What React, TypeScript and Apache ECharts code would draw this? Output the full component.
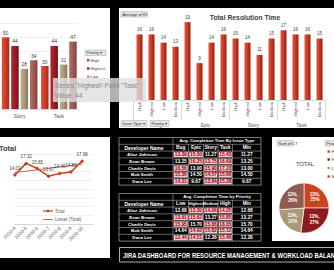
import React, { useEffect, useRef } from "react";
import * as echarts from "echarts";

// ---------------- data ----------------
const priorityNames = ["High", "Highest", "Low", "Medium"];

// top-left: issue count by issue type & priority (visible part)
const countCategories = ["Story", "Task"];
const countHigh = [50, 30];
const countHighest = [44, 44];
const countLow = [28, 31];
const countMedium = [34, 47];

// top-right: average of KT
const resolutionIssueTypes = ["Bug", "Epic", "Story", "Task"];
const resolutionPriorities = [
  "High", "Highest", "Low", "Medium",
  "High", "Highest", "Low", "Medium",
  "High", "Highest", "Low", "Medium",
  "High", "Highest", "Low", "Medium",
];
const resolutionValues = [16, 16, 14, 13, 19, 9, 14, 16, 15, 14, 11, 15, 17, 16, 16, 15];

// bottom-left: monthly total
const monthLabels = ["2020-4", "2020-5", "2020-6", "2020-7", "2020-8", "2020-9", "2020-10", ""];
const monthTotals = [14.03, 17.32, 15.85, 13.67, 14.46, 14.86, 17.96];
const trendEnds = [14.7, 17.1];

// tables
const developerNames = ["Alice Johnson", "Evan Brown", "Charlie Davis", "Bob Smith", "Dana Lee"];
const issueTypeHeaders = ["Bug", "Epic", "Story", "Task"];
const avgByIssueType = [
  [13.39, 15.0, 11.27, 15.43],
  [13.25, 16.25, 13.75, 16.69],
  [16.56, 13.0, 15.9, 17.23],
  [15.36, 14.5, 14.57, 15.66],
  [14.31, 9.67, 13.84, 15.28],
];
const priorityHeaders = ["Low", "Highest", "Medium", "High"];
const avgByPriority = [
  [12.68, 13.3, 14.06, 14.25],
  [13.91, 15.62, 13.27, 15.85],
  [15.95, 15.7, 15.86, 18.05],
  [14.64, 14.92, 15.82, 15.12],
  [12.44, 14.51, 12.28, 15.46],
];

// pie
const pieShares = [25, 27, 22, 26];
const pieCountShares = ["13%", "13%", "13%", "12%"];

const tooltipLines = ['Series "Highest" Point "Task"', "Value: 44"];
const dashboardTitle = "JIRA DASHBOARD FOR RESOURCE MANAGEMENT & WORKLOAD BALANCING";

// ---------------- styles ----------------
const FONT = "'Liberation Sans', Arial, sans-serif";
const barStops = [
  ["#e2553a", "#d03b26", "#a82a1a"],
  ["#b02a30", "#9a1d23", "#721217"],
  ["#bcb090", "#a99b79", "#857759"],
  ["#b46e66", "#a15a52", "#7c423c"],
];
const pieColors = ["#c9451f", "#8c1c1c", "#a99a75", "#8f5d50"];
const legendColors = ["#d23c28", "#9a1b22", "#a69a78", "#a35e56"];

const grad = (stops: string[]) =>
  new echarts.graphic.LinearGradient(
    0, 0, 1, 0,
    stops.map((c, i) => ({ offset: i / (stops.length - 1), color: c }))
  );

function txt(x: number, y: number, t: string, fill: string, size: number, opts: any = {}) {
  const align = opts.align || "center";
  return {
    type: "text",
    x,
    y,
    z: opts.z ?? 5,
    scaleX: opts.scaleX ?? 1,
    silent: true,
    style: {
      text: t,
      fill,
      fontSize: size,
      fontWeight: opts.weight || "normal",
      fontFamily: FONT,
      align,
      verticalAlign: "middle",
      textAlign: align,
      textVerticalAlign: "middle",
    },
  };
}
function rect(x: number, y: number, w: number, h: number, style: any, z = 0) {
  return { type: "rect", z, silent: true, shape: { x, y, width: w, height: h }, style };
}
function line(x1: number, y1: number, x2: number, y2: number, stroke: string, lw: number, z = 3) {
  return { type: "line", z, silent: true, shape: { x1, y1, x2, y2 }, style: { stroke, lineWidth: lw } };
}
function button(x: number, y: number, w: number, h: number, label: string) {
  return [
    rect(x, y, w, h, { fill: "#e4e4e4", stroke: "#a6a6a6", lineWidth: 0.5 }, 10),
    txt(x + 1.5, y + h / 2, label, "#333", 4, { align: "left", z: 11 }),
  ];
}

function tableElements(title: string, headers: string[], rows: number[][], top: number) {
  const els: any[] = [];
  const xs = [119, 173, 188.5, 203.5, 218, 232.5, 261];
  const rh = 6.8;
  const bottom = top + rh * 7;
  const border = "#c8c8c8";
  rows.forEach((row, r) => {
    const y = top + rh * (r + 2);
    const mn = Math.min(...row);
    row.forEach((v, c) => {
      if (v !== mn) {
        els.push(rect(xs[c + 1] + 0.7, y + 0.7, xs[c + 2] - xs[c + 1] - 1.4, rh - 1.4, { fill: "#ffc7ce" }, 2));
      }
    });
  });
  els.push(rect(xs[0], top, xs[6] - xs[0], bottom - top, { fill: "none", stroke: border, lineWidth: 0.6 }, 3));
  for (let r = 1; r < 7; r++) els.push(line(xs[0], top + rh * r, xs[6], top + rh * r, border, 0.5));
  els.push(line(xs[1], top, xs[1], bottom, border, 0.5));
  for (let c = 2; c < 6; c++) els.push(line(xs[c], top + rh, xs[c], bottom, border, 0.5));
  els.push(txt((xs[1] + xs[6]) / 2, top + rh / 2, title, "#fff", 4.3, { weight: "bold" }));
  els.push(txt((xs[0] + xs[1]) / 2 - 2, top + rh * 1.5, "Developer Name", "#fff", 5, { weight: "bold" }));
  headers.forEach((h, i) =>
    els.push(txt((xs[i + 1] + xs[i + 2]) / 2, top + rh * 1.5, h, "#fff", h.length > 5 ? 4.1 : 4.8, { weight: "bold" }))
  );
  els.push(txt((xs[5] + xs[6]) / 2, top + rh * 1.5, "Min", "#fff", 4.8, { weight: "bold" }));
  rows.forEach((row, r) => {
    const y = top + rh * (r + 2) + rh / 2;
    const mn = Math.min(...row);
    els.push(txt((xs[0] + xs[1]) / 2 - 4, y, developerNames[r], "#fff", 4.4, { weight: "bold" }));
    row.forEach((v, c) => {
      els.push(txt((xs[c + 1] + xs[c + 2]) / 2, y, v.toFixed(2), v === mn ? "#fff" : "#9c0006", 4.8, { weight: "bold" }));
    });
    els.push(txt((xs[5] + xs[6]) / 2, y, mn.toFixed(2), "#fff", 4.8, { weight: "bold" }));
  });
  return els;
}

function buildOption() {
  const countSeries = [countHigh, countHighest, countLow, countMedium];
  const graphic: any[] = [
    // panels
    rect(0, 8, 110, 120, { fill: "#fff" }, 0),
    rect(119, 8, 215, 120, { fill: "#fff" }, 0),
    rect(0, 137, 110, 121, { fill: "#fff" }, 0),
    rect(272, 137, 62, 104, { fill: "#fff" }, 0),
    // top-left legend
    ...button(85, 50, 21, 5.5, "Priority ▾"),
    ...priorityNames.flatMap((n, i) => {
      const y = [60.3, 68.5, 76.7, 85][i];
      return [
        rect(87, y - 1.2, 2.4, 2.4, { fill: legendColors[i] }, 5),
        txt(90.5, y, n, "#404040", 4.3, { align: "left" }),
      ];
    }),
    // top-right
    ...button(121, 11.5, 26, 5.5, "Average of KT"),
    txt(245, 17.5, "Total Resolution Time", "#404040", 6.8, { weight: "bold" }),
    ...button(121, 120.5, 26, 6, "Issue Type ▾"),
    ...button(150, 120.5, 19, 6, "Priority ▾"),
    // bottom-left line chart
    txt(-1, 148, "Total", "#404040", 7.5, { weight: "bold", align: "left" }),
    line(43, 211, 53, 211, "#c9401c", 1.2, 5),
    { type: "circle", z: 6, silent: true, shape: { cx: 48, cy: 211, r: 1.3 }, style: { fill: "#c9401c" } },
    txt(55, 211, "Total", "#595959", 4.5, { align: "left" }),
    line(43, 219.5, 53, 219.5, "#b45a3c", 0.9, 5),
    txt(55, 219.5, "Linear (Total)", "#595959", 4.5, { align: "left" }),
    // tables
    ...tableElements("Avg. Completion Time By Issue Type", issueTypeHeaders, avgByIssueType, 137.5),
    ...tableElements("Avg. Completion Time by Priority", priorityHeaders, avgByPriority, 193.5),
    // footer
    rect(119.5, 247.5, 220, 14.5, { fill: "none", stroke: "#d9d9d9", lineWidth: 0.8 }, 3),
    txt(123, 255, dashboardTitle, "#fff", 7.2, { weight: "bold", align: "left", scaleX: 0.82 }),
    // pie panel
    ...button(277, 140.5, 16, 5.5, "Sum of CT"),
    ...button(325, 140.5, 14, 5.5, "Priority ▾"),
    ...priorityNames.flatMap((n, i) => {
      const y = [151.5, 159.5, 168, 176.5][i];
      return [
        rect(327.5, y - 1.2, 2.4, 2.4, { fill: pieColors[i] }, 5),
        txt(331.5, y, n, "#404040", 4.3, { align: "left" }),
      ];
    }),
    txt(305, 164, "TOTAL", "#404040", 5.8),
    // floating tooltip
    rect(53, 78, 93, 24, { fill: "rgba(222,222,222,0.8)" }, 50),
    txt(55, 85.5, tooltipLines[0], "#8c8c8c", 6.6, { align: "left", z: 51 }),
    txt(55, 95.5, tooltipLines[1], "#8c8c8c", 6.6, { align: "left", z: 51 }),
  ];

  return {
    animation: false,
    backgroundColor: "#000",
    textStyle: { fontFamily: FONT },
    grid: [
      { left: -3.5, top: 23, width: 82, height: 86 },
      { left: 133.5, top: 18, width: 192, height: 82 },
      { left: 0, top: 154, width: 93.3, height: 70 },
    ],
    xAxis: [
      {
        gridIndex: 0, type: "category", data: countCategories,
        axisLine: { lineStyle: { color: "#d9d9d9" } }, axisTick: { show: false },
        axisLabel: { fontSize: 5, color: "#595959", margin: 4 },
      },
      {
        gridIndex: 1, type: "category", data: resolutionPriorities,
        axisLine: { lineStyle: { color: "#d9d9d9" } }, axisTick: { show: false },
        axisLabel: { rotate: 90, fontSize: 4.2, color: "#595959", margin: 2, interval: 0 },
      },
      {
        gridIndex: 1, type: "category", data: resolutionIssueTypes, position: "bottom", offset: 20,
        axisLine: { show: false },
        axisTick: { show: true, inside: true, length: 20, lineStyle: { color: "#d9d9d9" } },
        axisLabel: { fontSize: 5, color: "#595959", margin: 2 },
      },
      {
        gridIndex: 2, type: "category", data: monthLabels, boundaryGap: false,
        axisLine: { lineStyle: { color: "#d9d9d9" } }, axisTick: { show: false },
        axisLabel: { rotate: 45, fontSize: 5, color: "#595959", margin: 3, interval: 0 },
      },
    ],
    yAxis: [
      {
        gridIndex: 0, type: "value", min: 0, max: 60, interval: 10,
        axisLabel: { show: false }, axisLine: { show: false }, axisTick: { show: false },
        splitLine: { lineStyle: { color: "#e6e6e6", width: 0.6 } },
      },
      { gridIndex: 1, type: "value", min: 0, max: 20, show: false },
      {
        gridIndex: 2, type: "value", min: 0, max: 20, interval: 2.5,
        axisLabel: { show: false }, axisLine: { show: false }, axisTick: { show: false },
        splitLine: { lineStyle: { color: "#e6e6e6", width: 0.6 } },
      },
    ],
    series: [
      ...priorityNames.map((name, i) => ({
        type: "bar", name, xAxisIndex: 0, yAxisIndex: 0, data: countSeries[i],
        barWidth: 7.5, barGap: "25%",
        itemStyle: { color: grad(barStops[i]) },
        label: { show: true, position: "top", fontSize: 5, color: "#404040", distance: 2 },
      })),
      {
        type: "bar", name: "Average of KT", xAxisIndex: 1, yAxisIndex: 1, data: resolutionValues,
        barWidth: 6,
        itemStyle: { color: grad(["#e0573c", "#c83a22", "#8c2014"]) },
        label: { show: true, position: "top", fontSize: 4.5, color: "#404040", distance: 2.5 },
      },
      {
        type: "line", name: "Total", xAxisIndex: 3, yAxisIndex: 2, data: monthTotals,
        symbol: "diamond", symbolSize: 4,
        lineStyle: { color: "#c9401c", width: 1.5 }, itemStyle: { color: "#c9401c" },
        label: {
          show: true, position: "top", fontSize: 4.5, color: "#404040", distance: 2,
          formatter: (p: any) => Number(p.value).toFixed(2),
        },
      },
      {
        type: "line", name: "Linear (Total)", xAxisIndex: 3, yAxisIndex: 2,
        data: [[0, trendEnds[0]], [monthTotals.length - 1, trendEnds[1]]],
        symbol: "none", lineStyle: { color: "#b45a3c", width: 0.9 },
      },
      {
        type: "pie", name: "Sum of CT", center: [304, 208], radius: 25, startAngle: 90, clockwise: true,
        silent: true,
        data: priorityNames.map((n, i) => ({ name: n, value: pieShares[i], itemStyle: { color: pieColors[i] } })),
        itemStyle: { borderColor: "#fff", borderWidth: 0.6 },
        label: {
          position: "inside", fontSize: 4.5, color: "#fff", fontWeight: "bold", lineHeight: 5.5,
          formatter: (p: any) => `${pieCountShares[p.dataIndex]},\n${Math.round(p.percent)}%`,
        },
        labelLine: { show: false },
      },
    ],
    graphic,
  };
}

export default function App() {
  const ref = useRef<HTMLDivElement>(null);
  useEffect(() => {
    const chart = echarts.init(ref.current!, null, { renderer: "svg" });
    chart.setOption(buildOption() as any);
    return () => chart.dispose();
  }, []);
  return (
    <div
      ref={ref}
      style={{ position: "fixed", left: 0, top: 0, width: 334, height: 270 }}
    />
  );
}
